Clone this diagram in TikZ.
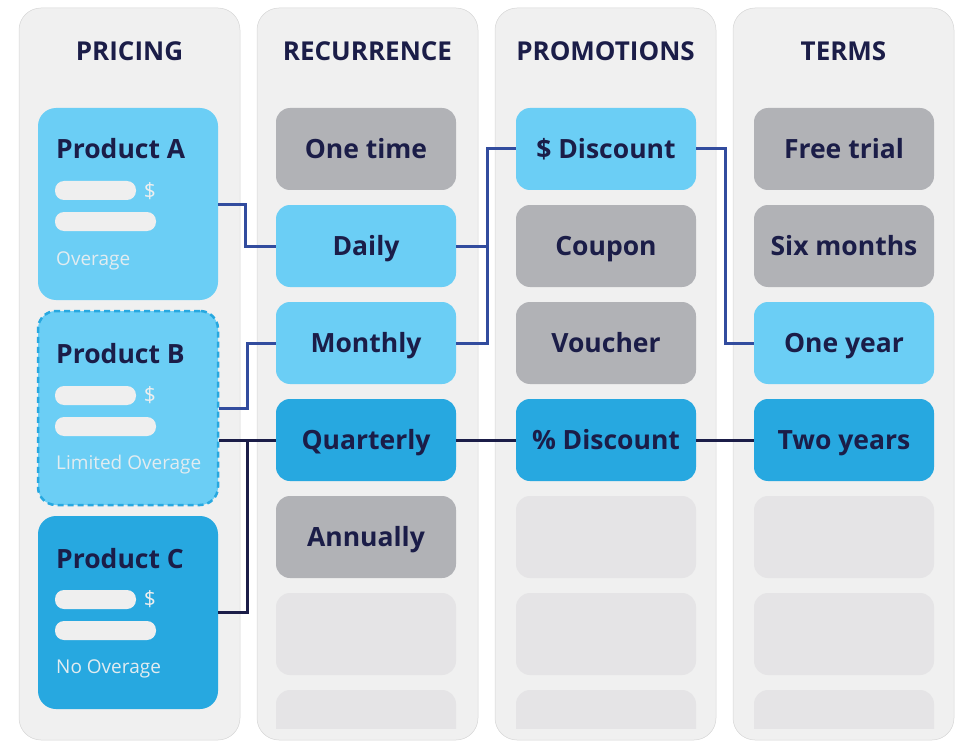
\documentclass[tikz,border=0pt]{standalone}
\usepackage{fontspec}
\setmainfont{Open Sans}
\usepackage{tikz}
\definecolor{panelgray}{RGB}{240,240,240}
\definecolor{skyblue}{RGB}{107,206,245}
\definecolor{midblue}{RGB}{39,168,224}
\definecolor{boxgray}{RGB}{177,178,182}
\definecolor{emptygray}{RGB}{229,228,230}
\definecolor{navy}{RGB}{27,29,72}
\definecolor{linkblue}{RGB}{50,76,158}
\definecolor{barwhite}{RGB}{239,239,239}

\begin{document}
\begin{tikzpicture}[x=1pt,y=-1pt,
  panel/.style={fill=panelgray,draw=black!16,line width=.5pt,rounded corners=22pt},
  colhead/.style={font=\bfseries\fontsize{26}{30}\selectfont,text=navy,anchor=base,inner sep=0pt},
  tile/.style={minimum width=180pt,minimum height=82pt,inner sep=0pt,rounded corners=14pt,
    font=\bfseries\fontsize{26.5}{32}\selectfont,text=navy,text height=19pt,text depth=0pt},
  graytile/.style={tile,fill=boxgray},
  skytile/.style={tile,fill=skyblue},
  midtile/.style={tile,fill=midblue},
  emptytile/.style={tile,fill=emptygray},
  prodbox/.style={minimum width=180pt,inner sep=0pt,rounded corners=18pt},
  prodtitle/.style={font=\bfseries\fontsize{26.5}{30}\selectfont,text=navy,anchor=base west,inner sep=0pt},
  bar/.style={fill=barwhite,rounded corners=9pt},
  dollar/.style={font=\fontsize{21}{24}\selectfont,text=barwhite,inner sep=0pt},
  subtext/.style={font=\fontsize{19}{22}\selectfont,text=barwhite!90!skyblue,anchor=base west,inner sep=0pt},
  bluelink/.style={draw=linkblue,line width=3pt},
  navylink/.style={draw=navy,line width=3pt}]
\useasboundingbox (0,0) rectangle (959,741);

% columns
\draw[panel] (19,8) rectangle (240,740);
\draw[panel] (257,8) rectangle (478,740);
\draw[panel] (495,8) rectangle (716,740);
\draw[panel] (733,8) rectangle (954,740);

\node[colhead] (hpricing) at (129.5,61) {PRICING};
\node[colhead] (hrecur) at (367.5,61) {RECURRENCE};
\node[colhead] (hpromo) at (605.5,61) {PROMOTIONS};
\node[colhead] (hterms) at (843.5,61) {TERMS};

% pricing
\node[prodbox,fill=skyblue,minimum height=192pt] (proda) at (128,204) {};
\node[prodtitle] (proda-title) at (56,159) {Product A};
\fill[bar] (55,181) rectangle (136,200);
\fill[bar] (55,212) rectangle (156,231);
\node[dollar] (proda-usd) at (150,191) {\$};
\node[subtext] (proda-sub) at (56,265) {Overage};

\node[prodbox,fill=skyblue,draw=midblue,line width=2.5pt,dash pattern=on 6pt off 4pt,minimum height=194pt] (prodb) at (128,408) {};
\node[prodtitle] (prodb-title) at (56,363) {Product B};
\fill[bar] (55,386) rectangle (136,405);
\fill[bar] (55,417) rectangle (156,436);
\node[dollar] (prodb-usd) at (150,395) {\$};
\node[subtext] (prodb-sub) at (56,469) {Limited Overage};

\node[prodbox,fill=midblue,minimum height=193pt] (prodc) at (128,612.5) {};
\node[prodtitle] (prodc-title) at (56,568) {Product C};
\fill[bar] (55,590) rectangle (136,609);
\fill[bar] (55,621) rectangle (156,640);
\node[dollar] (prodc-usd) at (150,599) {\$};
\node[subtext] (prodc-sub) at (56,673) {No Overage};

% recurrence
\node[graytile] (onetime) at (366,149) {One time};
\node[skytile] (daily) at (366,246) {Daily};
\node[skytile] (monthly) at (366,343) {Monthly};
\node[midtile] (quarterly) at (366,440) {Quarterly};
\node[graytile] (annually) at (366,537) {Annually};
\node[emptytile] (recur6) at (366,634) {};

% promotions
\node[skytile] (disc) at (606,149) {\$ Discount};
\node[graytile] (coupon) at (606,246) {Coupon};
\node[graytile] (voucher) at (606,343) {Voucher};
\node[midtile] (pdisc) at (606,440) {\% Discount};
\node[emptytile] (promo5) at (606,537) {};
\node[emptytile] (promo6) at (606,634) {};

% terms
\node[graytile] (freetrial) at (844,149) {Free trial};
\node[graytile] (sixmonths) at (844,246) {Six months};
\node[skytile] (oneyear) at (844,343) {One year};
\node[midtile] (twoyears) at (844,440) {Two years};
\node[emptytile] (terms5) at (844,537) {};
\node[emptytile] (terms6) at (844,634) {};

% last row is cut off
\begin{scope}
\clip (0,0) rectangle (959,728);
\node[emptytile] (recur7) at (366,731) {};
\node[emptytile] (promo7) at (606,731) {};
\node[emptytile] (terms7) at (844,731) {};
\end{scope}

% links
\draw[bluelink] (proda.east) -- ++(27,0) |- (daily.west);
\draw[bluelink] (prodb.east) -- ++(28,0) |- (monthly.west);
\draw[navylink] (prodb.east |- quarterly.west) -- (quarterly.west);
\draw[navylink] (prodc.east) -- ++(29,0) |- (quarterly.west);
\draw[bluelink] (daily.east) -- ++(31,0) |- (disc.west);
\draw[bluelink] (monthly.east) -- ++(31,0) |- (disc.west);
\draw[bluelink] (disc.east) -- ++(29,0) |- (oneyear.west);
\draw[navylink] (quarterly.east) -- (pdisc.west);
\draw[navylink] (pdisc.east) -- (twoyears.west);

\end{tikzpicture}
\end{document}
